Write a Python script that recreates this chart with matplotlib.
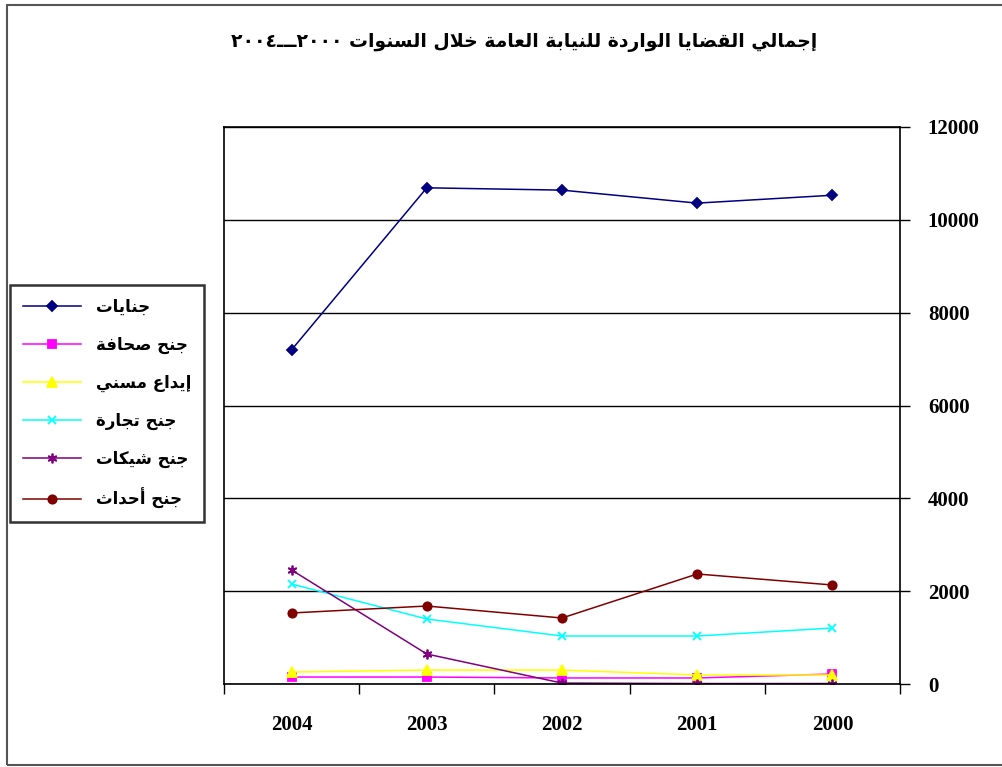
import numpy as np
import matplotlib
matplotlib.use("Agg")
import matplotlib.pyplot as plt
from matplotlib.patches import Rectangle

# ---- data ----
years = ["2004", "2003", "2002", "2001", "2000"]
series_names = ["جنايات", "جنح صحافة", "إيداع مسني", "جنح تجارة", "جنح شيكات", "جنح أحداث"]
felonies = [7200, 10690, 10640, 10360, 10530]
press = [150, 150, 130, 130, 215]
deposit = [258, 300, 300, 194, 194]
commerce = [2154, 1400, 1034, 1034, 1206]
cheques = [2456, 646, 20, 10, 10]
juveniles = [1530, 1680, 1422, 2370, 2133]
title = "إجمالي القضايا الواردة للنيابة العامة خلال السنوات ٢٠٠٠ـــ٢٠٠٤"

values = [felonies, press, deposit, commerce, cheques, juveniles]
colors = ["#000080", "#FF00FF", "#FFFF00", "#00FFFF", "#800080", "#800000"]
markers = ["D", "s", "^", "x", (6, 2, 0), "o"]
msizes = [5, 6, 7, 6, 7, 6]

# ---- tiny arabic shaper (matplotlib has no shaping / bidi) ----
BASE = {'ء': (0xFE80, 1), 'آ': (0xFE81, 2), 'أ': (0xFE83, 2), 'ؤ': (0xFE85, 2),
        'إ': (0xFE87, 2), 'ئ': (0xFE89, 4), 'ا': (0xFE8D, 2), 'ب': (0xFE8F, 4),
        'ة': (0xFE93, 2), 'ت': (0xFE95, 4), 'ث': (0xFE99, 4), 'ج': (0xFE9D, 4),
        'ح': (0xFEA1, 4), 'خ': (0xFEA5, 4), 'د': (0xFEA9, 2), 'ذ': (0xFEAB, 2),
        'ر': (0xFEAD, 2), 'ز': (0xFEAF, 2), 'س': (0xFEB1, 4), 'ش': (0xFEB5, 4),
        'ص': (0xFEB9, 4), 'ض': (0xFEBD, 4), 'ط': (0xFEC1, 4), 'ظ': (0xFEC5, 4),
        'ع': (0xFEC9, 4), 'غ': (0xFECD, 4), 'ف': (0xFED1, 4), 'ق': (0xFED5, 4),
        'ك': (0xFED9, 4), 'ل': (0xFEDD, 4), 'م': (0xFEE1, 4), 'ن': (0xFEE5, 4),
        'ه': (0xFEE9, 4), 'و': (0xFEED, 2), 'ى': (0xFEEF, 2), 'ي': (0xFEF1, 4)}
LAM_ALEF = {'آ': 0xFEF5, 'أ': 0xFEF7, 'إ': 0xFEF9, 'ا': 0xFEFB}


def joins_forward(c):
    return c == 'ـ' or (c in BASE and BASE[c][1] == 4)


def accepts_join(c):
    return c == 'ـ' or (c in BASE and BASE[c][1] > 1)


def shape(s):
    out = []
    i, n = 0, len(s)
    while i < n:
        c = s[i]
        jp = i > 0 and joins_forward(s[i - 1])
        if c == 'ل' and i + 1 < n and s[i + 1] in LAM_ALEF:
            out.append(chr(LAM_ALEF[s[i + 1]] + (1 if jp else 0)))
            i += 2
            continue
        if c in BASE:
            base, k = BASE[c]
            jn = k == 4 and i + 1 < n and accepts_join(s[i + 1])
            if k == 1:
                code = base
            elif k == 2:
                code = base + 1 if jp else base
            else:
                code = base + (3 if (jp and jn) else 1 if jp else 2 if jn else 0)
            out.append(chr(code))
        else:
            out.append(c)
        i += 1
    # visual order: reverse, but keep digit runs left-to-right
    tokens = []
    for ch in out:
        if ch.isdigit() and tokens and tokens[-1][-1].isdigit():
            tokens[-1] += ch
        else:
            tokens.append(ch)
    return "".join(reversed(tokens))


# ---- figure ----
fig = plt.figure(figsize=(10.03, 7.67), dpi=100)
ax = fig.add_axes([224 / 1003, 1 - 684 / 767, 676 / 1003, 557 / 767])

x = np.arange(len(years))
lines = []
for name, vals, col, mk, ms in zip(series_names, values, colors, markers, msizes):
    ln, = ax.plot(x, vals, color=col, lw=1.1, marker=mk, markersize=ms,
                  markeredgecolor=col, markerfacecolor=col, markeredgewidth=1.3,
                  label=shape(name))
    lines.append(ln)

ax.set_xlim(-0.5, len(years) - 0.5)
ax.set_ylim(0, 12000)
ax.yaxis.tick_right()
ax.set_yticks(np.arange(0, 12001, 2000))
ax.set_yticklabels([str(v) for v in range(0, 12001, 2000)])
ax.grid(axis="y", color="black", lw=1.0)
ax.set_axisbelow(True)

ax.set_xticks(x)
ax.set_xticklabels(years)
ax.set_xticks(np.arange(-0.5, len(years)), minor=True)
ax.tick_params(axis="x", which="major", length=0, pad=22)
ax.tick_params(axis="x", which="minor", length=7, width=1, direction="out")
ax.tick_params(axis="y", length=7, width=1, direction="out", pad=13)
for lab in ax.get_xticklabels() + ax.get_yticklabels():
    lab.set_fontfamily("Liberation Serif")
    lab.set_fontweight("bold")
    lab.set_fontsize(15)

for side in ["left", "top", "right", "bottom"]:
    ax.spines[side].set_color("black")
    ax.spines[side].set_linewidth(1.2)

fig.text(0.523, 1 - 43 / 767, shape(title), ha="center", va="center",
         fontsize=13.5, fontweight="bold", family="DejaVu Sans")

leg = fig.legend(handles=lines, loc="upper left",
                 bbox_to_anchor=(10 / 1003, 1 - 285 / 767), borderaxespad=0,
                 frameon=True, fancybox=False, shadow=False, edgecolor="black",
                 prop={"family": "DejaVu Sans", "weight": "bold", "size": 12},
                 handlelength=3.5, labelspacing=1.2, borderpad=0.75,
                 handletextpad=0.9)
leg.get_frame().set_linewidth(1.8)

# outer chart border
fig.patches.append(Rectangle((7 / 1003, 2 / 767), 1.2, 1 - 7 / 767,
                             transform=fig.transFigure, fill=False,
                             edgecolor="#555555", lw=1.5))

fig.savefig("out.png", dpi=100)
